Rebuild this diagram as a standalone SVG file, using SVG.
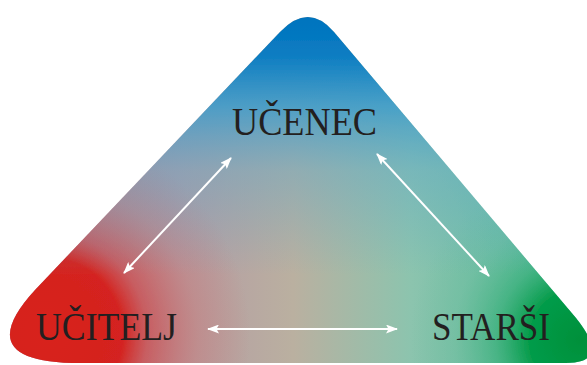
<svg xmlns="http://www.w3.org/2000/svg" width="587" height="365" viewBox="0 0 587 365">
  <style>
    .lbl { font-family: "Liberation Serif", "DejaVu Serif", serif; font-size: 41px; fill: #231f20; }
    .conn { stroke: #ffffff; stroke-width: 2; fill: none; marker-start: url(#head); marker-end: url(#head); }
  </style>
  <defs>
    <marker id="head" viewBox="0 0 12 9" markerWidth="12" markerHeight="9" refX="11" refY="4.5" orient="auto-start-reverse" markerUnits="userSpaceOnUse">
      <path d="M0,0 L12,4.5 L0,9 L2.5,4.5 z" fill="#ffffff"/>
    </marker>
    <path id="tri" d="M280,32 Q308.5,2 334,32 L576,318 Q612,363 566,363 L80,363 Q-32,363 35,290 Z"/>
    <clipPath id="triClip"><use href="#tri"/></clipPath>
    <linearGradient id="base" gradientUnits="userSpaceOnUse" x1="0" y1="0" x2="587" y2="0">
      <stop offset="0" stop-color="#b07088"/>
      <stop offset="0.3" stop-color="#b49aa4"/>
      <stop offset="0.5" stop-color="#bab0a0"/>
      <stop offset="0.7" stop-color="#8cc4ae"/>
      <stop offset="1" stop-color="#50b8a0"/>
    </linearGradient>
    <linearGradient id="blue" gradientUnits="userSpaceOnUse" x1="0" y1="15" x2="0" y2="275">
      <stop offset="0" stop-color="#0073be" stop-opacity="1"/>
      <stop offset="0.15" stop-color="#0a7cc2" stop-opacity="1"/>
      <stop offset="0.35" stop-color="#3e9ccb" stop-opacity="0.88"/>
      <stop offset="0.6" stop-color="#60a8c8" stop-opacity="0.45"/>
      <stop offset="1" stop-color="#60a8c8" stop-opacity="0"/>
    </linearGradient>
    <radialGradient id="red" gradientUnits="userSpaceOnUse" cx="45" cy="335" r="205">
      <stop offset="0" stop-color="#d8221c" stop-opacity="1"/>
      <stop offset="0.38" stop-color="#d42420" stop-opacity="1"/>
      <stop offset="0.5" stop-color="#d04848" stop-opacity="0.7"/>
      <stop offset="0.75" stop-color="#d07068" stop-opacity="0.35"/>
      <stop offset="1" stop-color="#d07068" stop-opacity="0"/>
    </radialGradient>
    <radialGradient id="green" gradientUnits="userSpaceOnUse" cx="580" cy="340" r="170">
      <stop offset="0" stop-color="#00903a" stop-opacity="1"/>
      <stop offset="0.3" stop-color="#009a45" stop-opacity="0.95"/>
      <stop offset="0.5" stop-color="#30ae70" stop-opacity="0.6"/>
      <stop offset="0.75" stop-color="#60bc90" stop-opacity="0.25"/>
      <stop offset="1" stop-color="#60bc90" stop-opacity="0"/>
    </radialGradient>
    <filter id="soft" x="-5%" y="-5%" width="110%" height="110%">
      <feGaussianBlur stdDeviation="0.7"/>
    </filter>
  </defs>
  <rect width="587" height="365" fill="#ffffff"/>
  <g id="background" filter="url(#soft)">
    <use href="#tri" fill="url(#base)"/>
    <g clip-path="url(#triClip)">
      <rect width="587" height="365" fill="url(#red)"/>
      <rect width="587" height="365" fill="url(#green)"/>
      <rect width="587" height="365" fill="url(#blue)"/>
    </g>
  </g>
  <g id="connectors">
    <line class="conn" x1="231" y1="158" x2="124" y2="273"/>
    <line class="conn" x1="377" y1="154" x2="489" y2="276"/>
    <line class="conn" x1="208" y1="329" x2="397" y2="329"/>
  </g>
  <g id="node-ucenec">
    <text class="lbl" x="232" y="135" textLength="145" lengthAdjust="spacingAndGlyphs">UČENEC</text>
  </g>
  <g id="node-ucitelj">
    <text class="lbl" x="36" y="340" textLength="141" lengthAdjust="spacingAndGlyphs">UČITELJ</text>
  </g>
  <g id="node-starsi">
    <text class="lbl" x="432" y="340" textLength="118" lengthAdjust="spacingAndGlyphs">STARŠI</text>
  </g>
</svg>
